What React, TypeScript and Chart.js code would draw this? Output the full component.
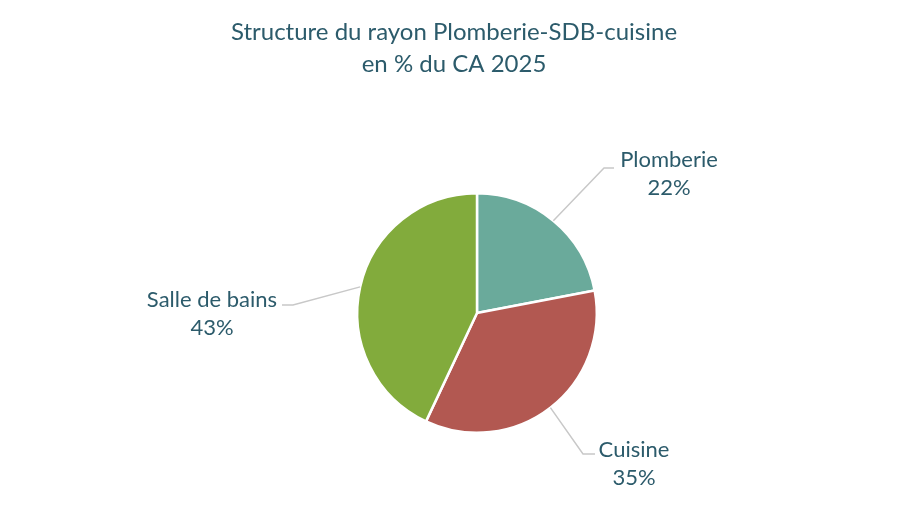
import React, { useEffect, useRef } from 'react';
import Chart from 'chart.js/auto';

const categories = ['Plomberie', 'Cuisine', 'Salle de bains'];
const shares = [22, 35, 43];
const sliceColors = ['#6aaa9b', '#b25851', '#82ab3c'];
const titleLines = ['Structure du rayon Plomberie-SDB-cuisine', 'en % du CA 2025'];

const textColor = '#2c5b6b';
const fontFamily = 'Lato, "Open Sans", sans-serif';

// leader line elbow / end and label centre, relative to the pie centre
const labelOffsets = [
  { elbow: [127, -145], end: [137, -145], text: [192, -153] },
  { elbow: [106, 141], end: [118, 141], text: [157, 137] },
  { elbow: [-184, -8], end: [-195, -8], text: [-265, -13] },
];

const labelPlugin = {
  id: 'pieLabels',
  afterDraw(chart: any) {
    const ctx = chart.ctx as CanvasRenderingContext2D;
    const meta = chart.getDatasetMeta(0);
    const w = chart.width;

    ctx.save();
    ctx.fillStyle = textColor;
    ctx.textAlign = 'center';
    ctx.textBaseline = 'alphabetic';
    ctx.font = `24px ${fontFamily}`;
    ctx.fillText(titleLines[0], w / 2, 40);
    ctx.fillText(titleLines[1], w / 2, 72);

    meta.data.forEach((arc: any, i: number) => {
      const { x, y, outerRadius, startAngle, endAngle } = arc.getProps(
        ['x', 'y', 'outerRadius', 'startAngle', 'endAngle'],
        true
      );
      const mid = (startAngle + endAngle) / 2;
      const ax = x + Math.cos(mid) * outerRadius;
      const ay = y + Math.sin(mid) * outerRadius;
      const o = labelOffsets[i];
      ctx.strokeStyle = '#c8c8c8';
      ctx.lineWidth = 1.5;
      ctx.beginPath();
      ctx.moveTo(ax, ay);
      ctx.lineTo(x + o.elbow[0], y + o.elbow[1]);
      ctx.lineTo(x + o.end[0], y + o.end[1]);
      ctx.stroke();

      ctx.font = `22px ${fontFamily}`;
      ctx.textBaseline = 'middle';
      ctx.fillText(categories[i], x + o.text[0], y + o.text[1]);
      ctx.fillText(`${shares[i]}%`, x + o.text[0], y + o.text[1] + 28);
    });
    ctx.restore();
  },
};

export default function App() {
  const canvasRef = useRef<HTMLCanvasElement | null>(null);
  const chartRef = useRef<Chart<'pie', number[], string> | null>(null);

  useEffect(() => {
    document.body.style.margin = '0';
    const ctx = canvasRef.current?.getContext('2d');
    if (!ctx) return;
    chartRef.current = new Chart(ctx, {
      type: 'pie',
      data: {
        labels: categories,
        datasets: [
          {
            data: shares,
            backgroundColor: sliceColors,
            borderColor: '#ffffff',
            borderWidth: 2.5,
          },
        ],
      },
      options: {
        animation: false,
        responsive: true,
        maintainAspectRatio: false,
        layout: { padding: { top: 192, bottom: 90, left: 356, right: 310 } },
        plugins: {
          legend: { display: false },
          tooltip: { enabled: false },
        },
      },
      plugins: [labelPlugin],
    });
    return () => {
      chartRef.current?.destroy();
      chartRef.current = null;
    };
  }, []);

  return (
    <div style={{ position: 'absolute', left: 0, top: 0, width: '908px', height: '524px', background: '#fff' }}>
      <canvas ref={canvasRef} />
    </div>
  );
}
